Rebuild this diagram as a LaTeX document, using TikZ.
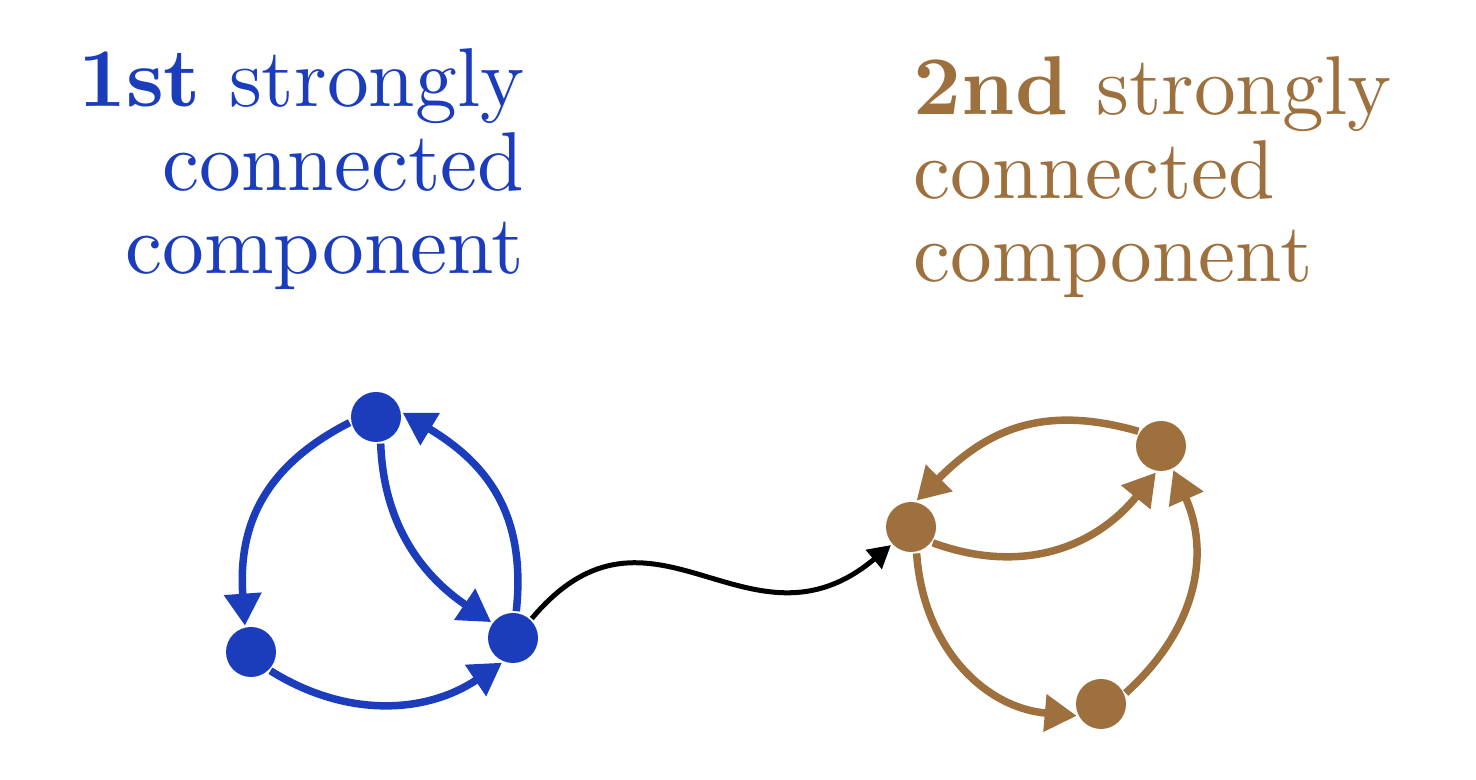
\documentclass[tikz,border=0pt]{standalone}
\usepackage{tikz}
\usetikzlibrary{arrows.meta}
\definecolor{sccblue}{HTML}{1B3CBB}
\definecolor{sccbrown}{HTML}{9D703E}

\begin{document}
\begin{tikzpicture}[x=1cm,y=1cm,
 vtx/.style={circle,fill,inner sep=0pt,minimum size=1cm,outer sep=0.04cm},
 lbl/.style={inner sep=0pt,scale=4.75,font=\fontsize{10}{10}\selectfont},
 edge/.style={line width=0.15cm,-{Triangle[length=0.64cm,width=0.72cm]}},
 link/.style={line width=0.1cm,-{Triangle[length=0.45cm,width=0.48cm]}}]
\useasboundingbox (0,0) rectangle (29.52,15.6);
% labels
\node[lbl,text=sccblue,align=right,anchor=north east] (lblone) at (10.52,14.66) {\textbf{1st} strongly\\connected\\component};
\node[lbl,text=sccbrown,align=left,anchor=north west] (lbltwo) at (18.24,14.5) {\textbf{2nd} strongly\\connected\\component};
% first component
\node[vtx,sccblue] (a) at (7.52,7.26) {};
\node[vtx,sccblue] (b) at (5.02,2.56) {};
\node[vtx,sccblue] (c) at (10.26,2.84) {};
\draw[edge,sccblue] (a.192) to[out=207,in=94,looseness=1.1] (b.103);
\draw[edge,sccblue] (a.-80) to[out=-88,in=146] (c.144);
\draw[edge,sccblue] (c.83) to[out=84,in=-31,looseness=1.1] (a.9);
\draw[edge,sccblue] (b.-44) to[out=-32,in=214] (c.-114);
% second component
\node[vtx,sccbrown] (d) at (18.22,5.06) {};
\node[vtx,sccbrown] (e) at (23.22,6.68) {};
\node[vtx,sccbrown] (f) at (22.02,1.52) {};
\draw[edge,sccbrown] (e.147) to[out=164,in=45,looseness=1.1] (d.78);
\draw[edge,sccbrown] (d.-36) to[out=-20,in=231,looseness=1.05] (e.-101);
\draw[edge,sccbrown] (d.-78) to[out=-86,in=175,looseness=1.05] (f.206);
\draw[edge,sccbrown] (f.24) to[out=42,in=-66,looseness=1.05] (e.-63);
% between components
\draw[link] (c.46) to[out=50,in=220,looseness=1.3] (d.222);
\end{tikzpicture}
\end{document}
